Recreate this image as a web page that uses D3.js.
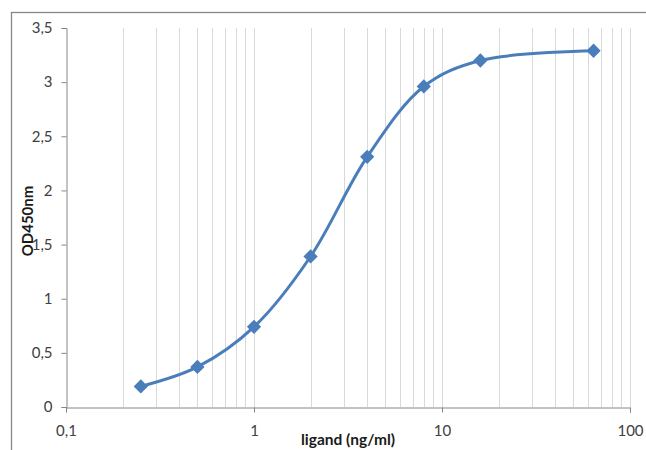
<!DOCTYPE html>
<html>
<head>
<meta charset="utf-8">
<script src="https://cdn.jsdelivr.net/npm/d3@7"></script>
<style>
  body { margin: 0; background: #fff; }
  svg text { font-family: Lato, "Open Sans", sans-serif; fill: #404040; }
</style>
</head>
<body>
<div id="chart"></div>
<script>
// data
let concentrations = [0.25, 0.5, 1, 2, 4, 8, 16, 64]
let odValues = [0.19, 0.37, 0.74, 1.39, 2.31, 2.96, 3.2, 3.29]
let yTicks = [0, 0.5, 1, 1.5, 2, 2.5, 3, 3.5]
let xTicks = [0.1, 1, 10, 100]

let width = 646
let height = 450
let plotLeft = 66, plotRight = 630, plotTop = 28, plotBottom = 407

let locale = d3.formatLocale({decimal: ",", thousands: ".", grouping: [3], currency: ["", ""]})
let fmt = locale.format("~g")

let svg = d3.select("#chart").append("svg")
            .attr("width", width)
            .attr("height", height)

// outer chart border
svg.append("rect")
   .attr("x", 11.5).attr("y", 12.5)
   .attr("width", 700).attr("height", 500)
   .attr("fill", "none")
   .attr("stroke", "#868686")
   .attr("stroke-width", 1.3)

let xScale = d3.scaleLog().domain([0.1, 100]).range([plotLeft, plotRight])
let yScale = d3.scaleLinear().domain([0, 3.5]).range([plotBottom, plotTop])

// -- vertical gridlines (minor + major)
let gridValues = []
for (let dec = 0.1; dec < 100; dec *= 10) {
  for (let k = 2; k <= 10; k++) gridValues.push(+(dec * k).toPrecision(3))
}
svg.append("g").selectAll("line")
   .data(gridValues)
   .enter().append("line")
   .attr("x1", d => Math.round(xScale(d)) + 0.5)
   .attr("x2", d => Math.round(xScale(d)) + 0.5)
   .attr("y1", plotTop)
   .attr("y2", plotBottom)
   .attr("stroke", "#d9d9d9")
   .attr("stroke-width", 1)

// -- y axis
let yAxis = d3.axisLeft(yScale).tickValues(yTicks).tickFormat(fmt).tickSize(5).tickPadding(9)
svg.append("g")
   .attr("transform", "translate(" + (plotLeft + 0.5) + ",0)")
   .call(yAxis)
   .call(g => g.select(".domain").attr("stroke", "#868686"))
   .call(g => g.selectAll(".tick line").attr("stroke", "#868686"))
   .call(g => g.selectAll("text").attr("font-size", 15).attr("fill", "#404040")
                .style("font-family", "Lato, sans-serif"))

// -- x axis
let xAxis = d3.axisBottom(xScale).tickValues(xTicks).tickFormat(fmt).tickSize(5).tickPadding(13)
svg.append("g")
   .attr("transform", "translate(0," + (plotBottom + 0.5) + ")")
   .call(xAxis)
   .call(g => g.select(".domain").attr("stroke", "#868686"))
   .call(g => g.selectAll(".tick line").attr("stroke", "#868686"))
   .call(g => g.selectAll("text").attr("font-size", 15).attr("fill", "#404040")
                .style("font-family", "Lato, sans-serif"))

// -- axis titles
svg.append("text")
   .attr("x", 348).attr("y", 445)
   .attr("text-anchor", "middle")
   .attr("font-size", 15.5).attr("font-weight", "bold")
   .style("fill", "#1a1a1a")
   .text("ligand (ng/ml)")

svg.append("text")
   .attr("transform", "translate(33,221) rotate(-90)")
   .attr("text-anchor", "middle")
   .attr("font-size", 15).attr("font-weight", "bold")
   .style("fill", "#1a1a1a")
   .text("OD450nm")

// -- smoothed curve
let pts = concentrations.map((c, i) => [xScale(c), yScale(odValues[i])])
let line = d3.line().curve(d3.curveCatmullRom.alpha(0.5))
svg.append("path")
   .attr("d", line(pts))
   .attr("fill", "none")
   .attr("stroke", "#4a7ebb")
   .attr("stroke-width", 3)

// -- diamond markers
svg.append("g").selectAll("path")
   .data(pts)
   .enter().append("path")
   .attr("d", d3.symbol().type(d3.symbolDiamond2).size(130))
   .attr("transform", d => "translate(" + d[0] + "," + d[1] + ")")
   .attr("fill", "#4a7ebb")
</script>
</body>
</html>
